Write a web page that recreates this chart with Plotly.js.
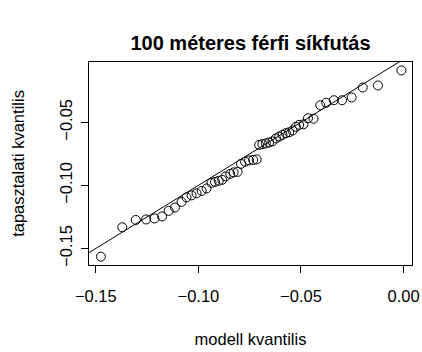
<!DOCTYPE html>
<html>
<head>
<meta charset="utf-8">
<script src="https://cdn.plot.ly/plotly-3.0.1.min.js"></script>
<style>html,body{margin:0;padding:0;background:#fff;}#chart{width:422px;height:352px;}</style>
</head>
<body>
<div id="chart"></div>
<script>
var modelQ = [-0.1475,-0.1371,-0.1305,-0.1255,-0.1214,-0.1177,-0.1145,-0.1114,-0.1082,-0.1058,
  -0.1033,-0.1009,-0.0984,-0.0960,-0.0936,-0.0919,-0.0901,-0.0884,-0.0867,-0.0845,
  -0.0828,-0.0809,-0.0792,-0.0772,-0.0753,-0.0733,-0.0716,-0.0704,-0.0688,-0.0671,
  -0.0655,-0.0639,-0.0622,-0.0606,-0.0590,-0.0574,-0.0558,-0.0541,-0.0525,-0.0509,
  -0.0488,-0.0466,-0.0439,-0.0406,-0.0377,-0.0340,-0.0300,-0.0253,-0.0199,-0.0125,-0.0011];
var empQ = [-0.1565,-0.1332,-0.1274,-0.1270,-0.1262,-0.1246,-0.1202,-0.1175,-0.1131,-0.1095,
  -0.1079,-0.1063,-0.1044,-0.1024,-0.0980,-0.0972,-0.0964,-0.0956,-0.0929,-0.0909,
  -0.0897,-0.0893,-0.0829,-0.0813,-0.0802,-0.0798,-0.0794,-0.0679,-0.0673,-0.0667,
  -0.0660,-0.0651,-0.0627,-0.0613,-0.0599,-0.0586,-0.0579,-0.0565,-0.0536,-0.0520,
  -0.0516,-0.0468,-0.0472,-0.0365,-0.0345,-0.0325,-0.0325,-0.0303,-0.0224,-0.0208,-0.0089];
// reference line y = x
var refLine = [-0.2, 0.05];
var xTicks = [-0.15, -0.10, -0.05, 0.00];
var xTickText = ['\u22120.15', '\u22120.10', '\u22120.05', '0.00'];
var yTicks = [-0.15, -0.10, -0.05];
var yTickText = ['\u22120.15', '\u22120.10', '\u22120.05'];

var font = 'Liberation Sans, Arial, sans-serif';
var traces = [
  {x: refLine, y: refLine, mode: 'lines', line: {color: '#000', width: 1}, hoverinfo: 'skip'},
  {x: modelQ, y: empQ, mode: 'markers',
   marker: {symbol: 'circle-open', size: 9, color: '#000', line: {width: 1, color: '#000'}}}
];
var layout = {
  width: 422, height: 352, showlegend: false,
  paper_bgcolor: '#fff', plot_bgcolor: '#fff',
  margin: {l: 89, r: 10, t: 62, b: 87, pad: 0},
  title: {text: '<b>100 méteres férfi síkfutás</b>', font: {family: font, size: 20, color: '#000'},
          x: 0.5, xref: 'paper', y: 1, yref: 'container', yanchor: 'top', pad: {t: 36}},
  xaxis: {range: [-0.1533, 0.0041], tickvals: xTicks, ticktext: xTickText,
          showgrid: false, zeroline: false, showline: true, mirror: true, linecolor: '#000', linewidth: 1,
          ticks: 'outside', ticklen: 7, tickcolor: '#000', tickwidth: 1, ticklabelstandoff: 9,
          tickfont: {family: font, size: 16.5, color: '#000'},
          title: {text: 'modell kvantilis', font: {family: font, size: 16.5, color: '#000'}, standoff: 29}},
  yaxis: {range: [-0.1631, -0.0022], tickvals: yTicks, ticktext: yTickText, tickangle: -90,
          showgrid: false, zeroline: false, showline: true, mirror: true, linecolor: '#000', linewidth: 1,
          ticks: 'outside', ticklen: 7, tickcolor: '#000', tickwidth: 1, ticklabelstandoff: 2,
          tickfont: {family: font, size: 16.5, color: '#000'},
          title: {text: 'tapasztalati kvantilis', font: {family: font, size: 16.5, color: '#000'}, standoff: 28}}
};
Plotly.newPlot('chart', traces, layout, {staticPlot: true, displayModeBar: false});
</script>
</body>
</html>
